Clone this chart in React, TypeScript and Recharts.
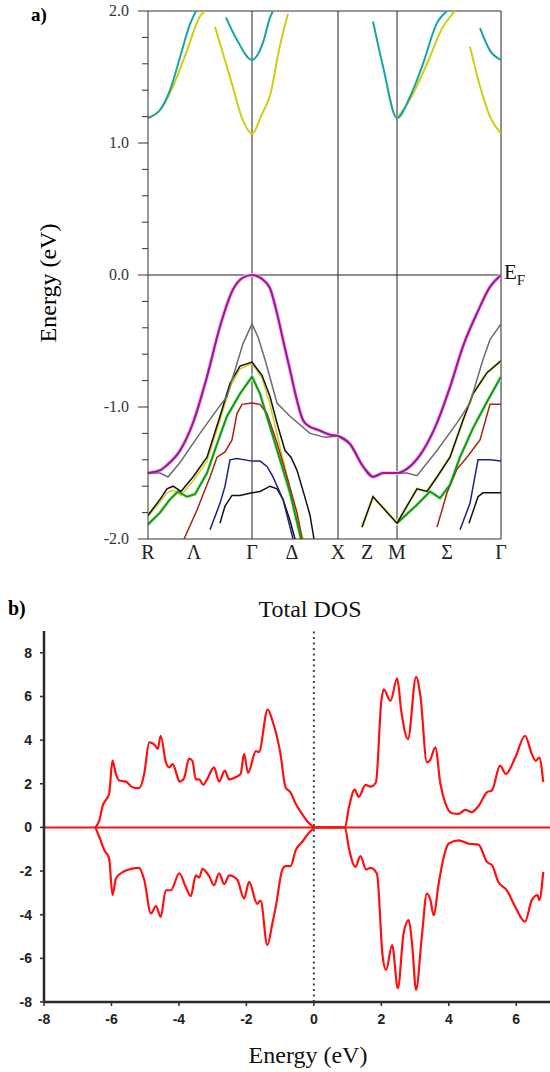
import * as React from 'react';
import { LineChart, Line, XAxis, YAxis, ReferenceLine } from 'recharts';

// ---- a) band structure: k-path (R=0 ... Γ=3.53), energies in eV ----
const kTicks = [0, 0.46, 1.04, 1.44, 1.9, 2.19, 2.49, 2.99, 3.53];
const kLabels = ['R', 'Λ', 'Γ', 'Δ', 'X', 'Z', 'M', 'Σ', 'Γ'];
const kLines = [1.04, 1.9, 2.49, 3.53];
const eTicks = [-2, -1.8, -1.6, -1.4, -1.2, -1, -0.8, -0.6, -0.4, -0.2, 0, 0.2, 0.4, 0.6, 0.8, 1, 1.2, 1.4, 1.6, 1.8, 2];

const magentaBand = [[0, -1.5], [0.12, -1.48], [0.19, -1.44], [0.32, -1.33], [0.45, -1.12], [0.59, -0.77], [0.72, -0.39], [0.85, -0.11], [0.95, -0.02], [1.04, 0], [1.14, -0.03], [1.22, -0.1], [1.29, -0.29], [1.35, -0.49], [1.42, -0.72], [1.49, -0.95], [1.55, -1.1], [1.62, -1.15], [1.69, -1.17], [1.82, -1.21], [1.9, -1.22], [2.02, -1.28], [2.15, -1.45], [2.25, -1.53], [2.35, -1.5], [2.49, -1.5], [2.62, -1.45], [2.75, -1.33], [2.89, -1.12], [3.02, -0.85], [3.15, -0.54], [3.29, -0.29], [3.42, -0.09], [3.53, 0]];
const grayBand = [[0, -1.5], [0.12, -1.5], [0.2, -1.53], [0.32, -1.42], [0.52, -1.2], [0.69, -1.02], [0.79, -0.92], [0.87, -0.72], [0.95, -0.52], [1.04, -0.37], [1.1, -0.47], [1.17, -0.64], [1.29, -0.97], [1.42, -1.07], [1.62, -1.2], [1.77, -1.23], [1.9, -1.22], [2.02, -1.28], [2.15, -1.45], [2.25, -1.53], [2.35, -1.5], [2.49, -1.5], [2.59, -1.5], [2.69, -1.52], [2.89, -1.33], [3.09, -1.12], [3.22, -0.97], [3.35, -0.64], [3.42, -0.49], [3.53, -0.37]];
const blackBand = [[0, -1.82], [0.12, -1.7], [0.19, -1.62], [0.25, -1.6], [0.33, -1.64], [0.45, -1.53], [0.59, -1.38], [0.72, -1.07], [0.82, -0.82], [0.92, -0.69], [1.04, -0.66], [1.14, -0.76], [1.22, -0.92], [1.3, -1.15], [1.37, -1.33], [1.43, -1.38], [1.49, -1.48], [1.56, -1.66], [1.62, -1.82], [1.66, -2]];
const blackZM = [[2.14, -1.91], [2.25, -1.68], [2.37, -1.78], [2.49, -1.88], [2.69, -1.62], [2.79, -1.64], [2.89, -1.53], [3.02, -1.38], [3.15, -1.1], [3.25, -0.9], [3.39, -0.74], [3.53, -0.65]];
const yellowBand = [[0, -1.83], [0.12, -1.72], [0.19, -1.65], [0.25, -1.63], [0.33, -1.67], [0.45, -1.56], [0.59, -1.41], [0.72, -1.1], [0.82, -0.85], [0.92, -0.71], [1.04, -0.67], [1.14, -0.78], [1.22, -0.98], [1.32, -1.3], [1.42, -1.62], [1.55, -2]];
const greenBand = [[0, -1.89], [0.12, -1.8], [0.22, -1.7], [0.3, -1.64], [0.39, -1.68], [0.47, -1.66], [0.59, -1.5], [0.69, -1.28], [0.79, -1.07], [0.92, -0.9], [1.04, -0.77], [1.12, -0.9], [1.22, -1.15], [1.32, -1.4], [1.42, -1.65], [1.53, -2]];
const greenRight = [[2.49, -1.88], [2.69, -1.74], [2.82, -1.64], [2.92, -1.69], [3.02, -1.59], [3.12, -1.38], [3.25, -1.16], [3.39, -0.96], [3.53, -0.77]];
const redBand = [[0.36, -2], [0.49, -1.78], [0.62, -1.53], [0.69, -1.38], [0.77, -1.34], [0.84, -1.25], [0.89, -1.05], [0.94, -0.98], [1.04, -0.97], [1.12, -0.98], [1.19, -1.05], [1.29, -1.27], [1.39, -1.53], [1.49, -1.8], [1.54, -2]];
const redRight = [[2.89, -1.91], [2.99, -1.65], [3.09, -1.47], [3.19, -1.38], [3.32, -1.25], [3.42, -0.98], [3.53, -0.98]];
const blueBand = [[0.62, -1.93], [0.72, -1.73], [0.77, -1.6], [0.82, -1.4], [0.89, -1.39], [1.04, -1.41], [1.12, -1.41], [1.19, -1.45], [1.25, -1.53], [1.35, -1.7], [1.45, -2]];
const blueRight = [[3.12, -1.93], [3.22, -1.73], [3.3, -1.4], [3.42, -1.4], [3.53, -1.41]];
const black2Band = [[0.72, -1.88], [0.77, -1.75], [0.84, -1.67], [0.92, -1.67], [1.04, -1.65], [1.12, -1.64], [1.22, -1.6], [1.29, -1.62], [1.35, -1.7], [1.42, -1.86], [1.47, -2]];
const black2Right = [[3.21, -1.88], [3.3, -1.68], [3.35, -1.65], [3.53, -1.65]];

const cyanLeft = [[0, 1.19], [0.12, 1.25], [0.22, 1.4], [0.32, 1.65], [0.42, 1.9], [0.48, 2]];
const yellowLeft = [[0, 1.19], [0.15, 1.28], [0.25, 1.43], [0.39, 1.7], [0.52, 1.96], [0.57, 2]];
const yellowGamma = [[0.67, 1.88], [0.82, 1.5], [0.95, 1.17], [1.04, 1.07], [1.14, 1.22], [1.22, 1.36], [1.32, 1.74], [1.4, 1.98]];
const cyanGamma = [[0.78, 1.95], [0.89, 1.78], [1.04, 1.63], [1.15, 1.76], [1.22, 1.95], [1.25, 2]];
const cyanZM = [[2.25, 1.92], [2.35, 1.58], [2.49, 1.19], [2.62, 1.35], [2.75, 1.6], [2.89, 1.91], [2.99, 2]];
const yellowZM = [[2.49, 1.19], [2.62, 1.33], [2.79, 1.6], [2.95, 1.88], [3.07, 2]];
const cyanRight = [[3.32, 1.87], [3.42, 1.7], [3.53, 1.63]];
const yellowRight = [[3.22, 1.73], [3.32, 1.43], [3.42, 1.2], [3.53, 1.07]];

// ---- b) total DOS, spin up (positive) and spin down (negative) ----
const dosXTicks = [-8, -6, -4, -2, 0, 2, 4, 6];
const dosYTicks = [-8, -6, -4, -2, 0, 2, 4, 6, 8];
const dosUp = [[-6.48, 0], [-6.36, 0.32], [-6.26, 1.0], [-6.17, 1.25], [-6.07, 1.54], [-5.97, 3.06], [-5.87, 2.45], [-5.77, 2.15], [-5.57, 2.1], [-5.38, 1.84], [-5.18, 1.8], [-5.03, 2.45], [-4.88, 3.9], [-4.73, 3.8], [-4.63, 3.6], [-4.54, 4.2], [-4.39, 3.0], [-4.29, 2.75], [-4.19, 2.9], [-4.04, 2.3], [-3.99, 2.1], [-3.85, 2.25], [-3.7, 3.15], [-3.6, 3.05], [-3.5, 2.2], [-3.4, 2.2], [-3.28, 1.95], [-3.15, 2.25], [-2.96, 2.75], [-2.81, 2.1], [-2.64, 2.6], [-2.51, 2.2], [-2.32, 2.3], [-2.17, 2.45], [-2.07, 3.37], [-1.95, 2.5], [-1.72, 3.5], [-1.63, 3.45], [-1.37, 5.4], [-1.23, 4.9], [-0.99, 3.37], [-0.84, 1.84], [-0.69, 1.6], [-0.54, 1.08], [-0.35, 0.62], [-0.15, 0.2], [0.05, 0], [0.92, 0], [1.04, 0.93], [1.21, 1.73], [1.33, 1.4], [1.53, 1.95], [1.68, 1.87], [1.84, 2.07], [2.0, 5.8], [2.07, 6.33], [2.27, 5.8], [2.47, 6.83], [2.59, 5.34], [2.79, 4.05], [3.03, 6.9], [3.16, 6.0], [3.35, 2.98], [3.45, 3.1], [3.6, 3.67], [3.75, 2.0], [3.9, 1.1], [4.09, 0.65], [4.29, 0.62], [4.49, 0.8], [4.68, 0.7], [4.88, 0.98], [5.13, 1.61], [5.28, 1.7], [5.52, 2.83], [5.69, 2.45], [5.97, 3.2], [6.26, 4.2], [6.46, 3.37], [6.58, 3.05], [6.68, 3.2], [6.8, 2.07]];
const dosDown = [[-6.48, 0], [-6.36, -0.44], [-6.21, -1.05], [-6.07, -1.42], [-5.97, -3.1], [-5.87, -2.35], [-5.72, -2.1], [-5.42, -1.9], [-5.18, -1.85], [-5.03, -2.4], [-4.83, -3.94], [-4.68, -3.6], [-4.54, -4.1], [-4.39, -2.88], [-4.24, -2.88], [-3.99, -2.1], [-3.8, -2.72], [-3.65, -3.15], [-3.5, -2.2], [-3.4, -2.3], [-3.3, -1.9], [-3.1, -2.25], [-2.96, -2.65], [-2.81, -2.1], [-2.66, -2.6], [-2.51, -2.2], [-2.27, -2.4], [-2.07, -3.26], [-1.92, -2.5], [-1.68, -3.5], [-1.58, -3.35], [-1.38, -5.39], [-1.23, -4.4], [-1.13, -3.64], [-0.94, -1.96], [-0.84, -1.77], [-0.69, -1.77], [-0.54, -1.05], [-0.35, -0.67], [-0.15, -0.26], [0.05, 0], [0.92, 0], [1.04, -0.97], [1.23, -1.81], [1.38, -1.32], [1.55, -1.93], [1.68, -1.85], [1.87, -2.12], [2.04, -5.92], [2.14, -6.53], [2.32, -5.39], [2.49, -7.37], [2.66, -4.85], [2.81, -4.25], [2.91, -5.3], [3.03, -7.44], [3.2, -5.0], [3.35, -3.03], [3.45, -3.3], [3.55, -4.02], [3.7, -2.57], [3.85, -1.36], [3.99, -0.75], [4.29, -0.59], [4.59, -0.75], [4.88, -0.79], [5.13, -1.58], [5.28, -1.73], [5.47, -2.5], [5.72, -2.88], [5.97, -3.64], [6.26, -4.32], [6.46, -3.33], [6.63, -3.1], [6.68, -3.33], [6.8, -2.04]];

const MAGENTA = '#a3179c';
const GRAY = '#6c6c6c';
const BLACK = '#111111';
const YELLOW = '#cfcf10';
const GREEN = '#139a13';
const RED = '#a82412';
const BLUE = '#1b2580';
const CYAN = '#1aa3a6';

// drawing order: halos first, then bands
const bandList: { pts: number[][]; color: string; width: number; smooth?: boolean }[] = [
  { pts: blackZM, color: '#f3f3a8', width: 3.5 },
  { pts: magentaBand, color: '#f3c6f1', width: 4, smooth: true },
  { pts: greenBand, color: '#c8eec8', width: 3.5 },
  { pts: greenRight, color: '#c8eec8', width: 3.5 },
  { pts: yellowBand, color: YELLOW, width: 1.5 },
  { pts: black2Band, color: BLACK, width: 1.5 },
  { pts: black2Right, color: BLACK, width: 1.5 },
  { pts: blueBand, color: BLUE, width: 1.5 },
  { pts: blueRight, color: BLUE, width: 1.5 },
  { pts: redBand, color: RED, width: 1.5 },
  { pts: redRight, color: RED, width: 1.5 },
  { pts: greenBand, color: GREEN, width: 2 },
  { pts: greenRight, color: GREEN, width: 2 },
  { pts: blackBand, color: BLACK, width: 1.5 },
  { pts: blackZM, color: BLACK, width: 1.5 },
  { pts: grayBand, color: GRAY, width: 1.5 },
  { pts: magentaBand, color: MAGENTA, width: 2.2, smooth: true },
  { pts: yellowLeft, color: YELLOW, width: 2, smooth: true },
  { pts: yellowGamma, color: YELLOW, width: 2, smooth: true },
  { pts: yellowZM, color: YELLOW, width: 2, smooth: true },
  { pts: yellowRight, color: YELLOW, width: 2, smooth: true },
  { pts: cyanLeft, color: CYAN, width: 2, smooth: true },
  { pts: cyanGamma, color: CYAN, width: 2, smooth: true },
  { pts: cyanZM, color: CYAN, width: 2, smooth: true },
  { pts: cyanRight, color: CYAN, width: 2, smooth: true },
];

const toRows = (pts: number[][]) => pts.map(([x, y]) => ({ x, y }));

const serif = '"Liberation Serif", "Times New Roman", serif';
const sans = '"Liberation Sans", Arial, sans-serif';

const EnergyTick = (props: any) => {
  const { x, y, payload } = props;
  const v = payload.value as number;
  const major = Math.abs(v - Math.round(v)) < 1e-6;
  return (
    <g>
      <line x1={x - (major ? 10 : 6)} x2={x} y1={y} y2={y} stroke="#333" strokeWidth={1} />
      {major && (
        <text x={x - 19} y={y} dy={5} textAnchor="end" fontFamily={serif} fontSize={16} fill="#333">
          {v.toFixed(1)}
        </text>
      )}
    </g>
  );
};

const KTick = (props: any) => {
  const { x, y, index } = props;
  return (
    <text x={x} y={y + 20} textAnchor="middle" fontFamily={serif} fontSize={20} fill="#222">
      {kLabels[index]}
    </text>
  );
};

const App = () => {
  return (
    <div style={{ position: 'relative', width: 550, height: 1072, background: '#fff', fontFamily: serif }}>
      <style>{'body{margin:0}'}</style>

      {/* a) band structure */}
      <div style={{ position: 'absolute', left: 0, top: 0 }}>
        <LineChart width={550} height={570} margin={{ top: 11, right: 49, bottom: 6, left: 88 }}>
          <XAxis
            type="number"
            dataKey="x"
            domain={[0, 3.53]}
            allowDataOverflow
            ticks={kTicks}
            interval={0}
            tickSize={0}
            tickMargin={0}
            tickLine={false}
            axisLine={{ stroke: '#333' }}
            tick={<KTick />}
            height={25}
          />
          <YAxis
            type="number"
            dataKey="y"
            domain={[-2, 2]}
            allowDataOverflow
            ticks={eTicks}
            interval={0}
            tickSize={0}
            tickMargin={0}
            tickLine={false}
            axisLine={{ stroke: '#333' }}
            tick={<EnergyTick />}
            width={60}
          />
          <ReferenceLine y={2} stroke="#333" strokeWidth={1} />
          <ReferenceLine y={0} stroke="#222" strokeWidth={1} />
          {kLines.map((k) => (
            <ReferenceLine key={'v' + k} x={k} stroke="#222" strokeWidth={1} />
          ))}
          {bandList.map((b, i) => (
            <Line
              key={'band' + i}
              data={toRows(b.pts)}
              dataKey="y"
              type={b.smooth ? 'monotone' : 'linear'}
              stroke={b.color}
              strokeWidth={b.width}
              dot={false}
              activeDot={false}
              isAnimationActive={false}
            />
          ))}
        </LineChart>
      </div>

      <div style={{ position: 'absolute', left: 31, top: 5, fontSize: 19, fontWeight: 700, lineHeight: 1 }}>a)</div>
      <div
        style={{
          position: 'absolute',
          left: 48,
          top: 283,
          fontSize: 24,
          whiteSpace: 'nowrap',
          lineHeight: 1,
          transform: 'translate(-50%, -50%) rotate(-90deg)',
        }}
      >
        Energy (eV)
      </div>
      <div style={{ position: 'absolute', left: 504, top: 262, fontSize: 21, lineHeight: 1, color: '#111' }}>
        E<span style={{ fontSize: 15, position: 'relative', top: 6 }}>F</span>
      </div>

      {/* b) total DOS */}
      <div style={{ position: 'absolute', left: 8, top: 598, fontSize: 20, fontWeight: 700, lineHeight: 1 }}>b)</div>
      <div style={{ position: 'absolute', left: 310, top: 597, fontSize: 24, lineHeight: 1, transform: 'translateX(-50%)', whiteSpace: 'nowrap', color: '#111' }}>
        Total DOS
      </div>
      <div style={{ position: 'absolute', left: 0, top: 580 }}>
        <LineChart width={550} height={480} margin={{ top: 51, right: 0, bottom: 28, left: 0 }}>
          <XAxis
            type="number"
            dataKey="x"
            domain={[-8, 7]}
            allowDataOverflow
            ticks={dosXTicks}
            interval={0}
            tickSize={4}
            tickMargin={8}
            axisLine={{ stroke: '#2a2a2a', strokeWidth: 2.5 }}
            tickLine={{ stroke: '#2a2a2a', strokeWidth: 1.5 }}
            tick={{ fontFamily: sans, fontWeight: 700, fontSize: 14, fill: '#222' }}
            height={30}
          />
          <XAxis
            xAxisId="top"
            orientation="top"
            type="number"
            domain={[-8, 7]}
            allowDataOverflow
            ticks={dosXTicks.slice(1)}
            interval={0}
            mirror
            height={0}
            tickSize={5}
            tick={false}
            axisLine={{ stroke: '#2a2a2a', strokeWidth: 2.5 }}
            tickLine={{ stroke: '#2a2a2a', strokeWidth: 1.5 }}
          />
          <YAxis
            type="number"
            dataKey="y"
            domain={[-8, 9]}
            allowDataOverflow
            ticks={dosYTicks}
            interval={0}
            tickSize={4}
            tickMargin={8}
            width={44}
            axisLine={{ stroke: '#2a2a2a', strokeWidth: 2.5 }}
            tickLine={{ stroke: '#2a2a2a', strokeWidth: 1.5 }}
            tick={{ fontFamily: sans, fontWeight: 700, fontSize: 14, fill: '#222' }}
          />
          <YAxis
            yAxisId="r"
            orientation="right"
            type="number"
            domain={[-8, 9]}
            allowDataOverflow
            ticks={dosYTicks.filter((v) => v !== 0 && v !== -8)}
            interval={0}
            mirror
            width={0}
            tickSize={4}
            tick={false}
            axisLine={false}
            tickLine={{ stroke: '#2a2a2a', strokeWidth: 1.5 }}
          />
          <ReferenceLine x={0} stroke="#444" strokeWidth={2} strokeDasharray="2 3.5" />
          <ReferenceLine y={0} stroke="#ff1010" strokeWidth={2} />
          <Line data={toRows(dosUp)} dataKey="y" type="monotoneX" stroke="#ff1010" strokeWidth={2.2} dot={false} activeDot={false} isAnimationActive={false} />
          <Line data={toRows(dosDown)} dataKey="y" type="monotoneX" stroke="#ff1010" strokeWidth={2.2} dot={false} activeDot={false} isAnimationActive={false} />
        </LineChart>
      </div>
      <div style={{ position: 'absolute', left: 308, top: 1043, fontSize: 24, lineHeight: 1, transform: 'translateX(-50%)', whiteSpace: 'nowrap', color: '#111' }}>
        Energy (eV)
      </div>
    </div>
  );
};

export default App;
